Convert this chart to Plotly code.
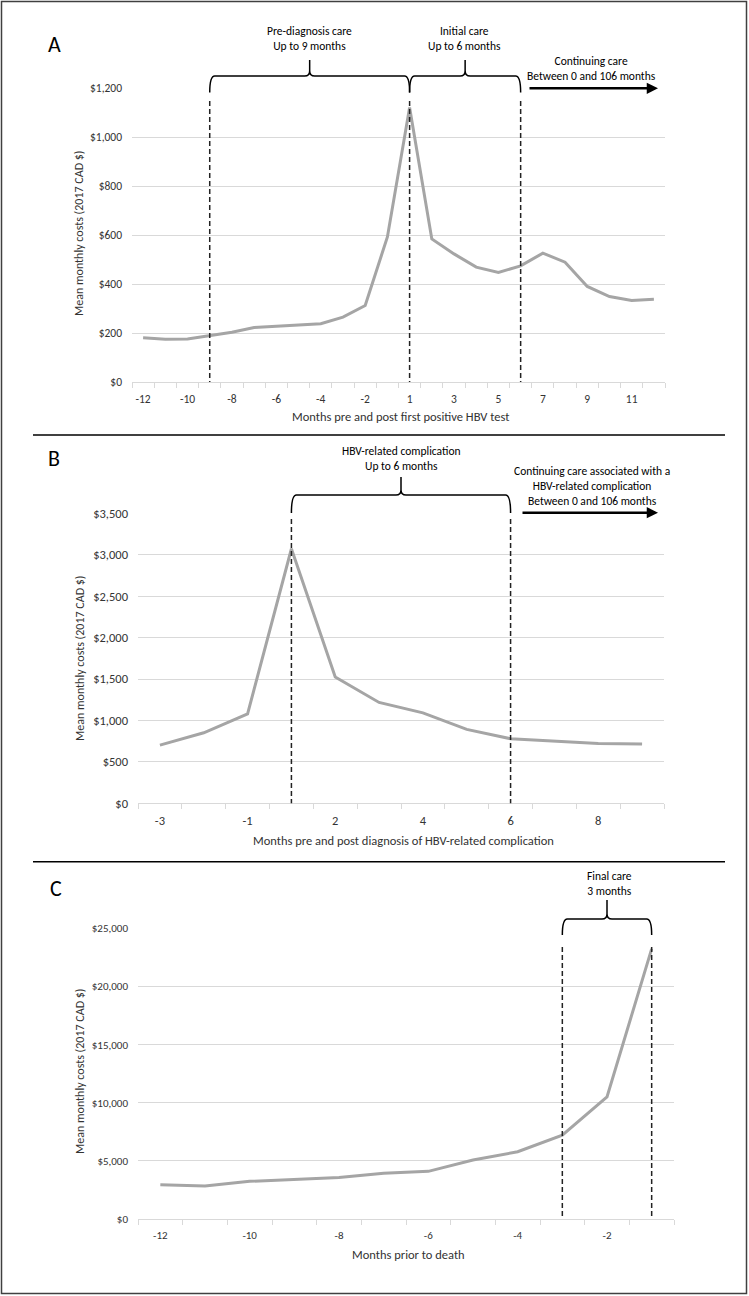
import plotly.graph_objects as go

W, H = 749, 1296
FONT = "Carlito, Calibri, Lato, sans-serif"

# ---------------- data ----------------
# Panel A: months pre/post first positive HBV test
months_a = [-12, -11, -10, -9, -8, -7, -6, -5, -4, -3, -2, -1,
            1, 2, 3, 4, 5, 6, 7, 8, 9, 10, 11, 12]
costs_a = [181, 175, 176, 189, 203, 222, 228, 232, 238, 265, 312, 592,
           1120, 584, 523, 469, 447, 474, 526, 489, 390, 349, 333, 338]
marks_a = [-9, 1, 6]

# Panel B: months pre/post diagnosis of HBV-related complication
months_b = [-3, -2, -1, 1, 2, 3, 4, 5, 6, 7, 8, 9]
costs_b = [702, 851, 1080, 3072, 1525, 1217, 1092, 892, 779, 751, 723, 715]
marks_b = [1, 6]

# Panel C: months prior to death
months_c = [-12, -11, -10, -9, -8, -7, -6, -5, -4, -3, -2, -1]
costs_c = [2950, 2850, 3240, 3440, 3580, 3930, 4100, 5070, 5790, 7220, 10510, 23250]
marks_c = [-3, -1]

y_title = "Mean monthly costs (2017 CAD $)"
x_title_a = "Months pre and post first positive HBV test"
x_title_b = "Months pre and post diagnosis of HBV-related complication"
x_title_c = "Months prior to death"

# ---------------- layout geometry (pixels) ----------------
def px(x):
    return x / W

def py(y):
    return 1 - y / H

panels = [
    dict(months=months_a, costs=costs_a, marks=marks_a, xd=(132, 665), yd=(88, 382),
         ymax=1200, dtick=200, xtitle=x_title_a, xt_y=416, yt=(79, 234), tfs=11.5),
    dict(months=months_b, costs=costs_b, marks=marks_b, xd=(138, 664), yd=(513.3, 803.3),
         ymax=3500, dtick=500, xtitle=x_title_b, xt_y=840, yt=(80, 659), tfs=12.5),
    dict(months=months_c, costs=costs_c, marks=marks_c, xd=(138, 674), yd=(928.5, 1219),
         ymax=25000, dtick=5000, xtitle=x_title_c, xt_y=1254, yt=(80, 1072), tfs=11),
]

fig = go.Figure()
shapes = []
annotations = []

for k, p in enumerate(panels, start=1):
    sfx = "" if k == 1 else str(k)
    n = len(p["months"])
    idx = list(range(n))
    fig.add_trace(go.Scatter(
        x=idx, y=p["costs"], mode="lines",
        line=dict(color="#A5A5A5", width=3),
        xaxis="x" + sfx, yaxis="y" + sfx, hoverinfo="skip", showlegend=False))
    tv = idx[::2]
    tt = [str(p["months"][i]) for i in tv]
    fig.layout["xaxis" + sfx] = dict(
        domain=[px(p["xd"][0]), px(p["xd"][1])],
        anchor="y" + sfx, range=[-0.5, n - 0.5], fixedrange=True, automargin=False,
        tickmode="array", tickvals=tv, ticktext=tt, ticks="",
        showline=True, linecolor="#D9D9D9", linewidth=1,
        showgrid=False, zeroline=False,
        tickfont=dict(family=FONT, size=p["tfs"], color="#333333"),
        ticklabelstandoff=6,
        minor=dict(tickmode="array", tickvals=[i - 0.5 for i in range(n + 1)],
                   ticks="outside", ticklen=5, tickcolor="#D9D9D9", tickwidth=1,
                   showgrid=False),
    )
    fig.layout["yaxis" + sfx] = dict(
        domain=[py(p["yd"][1]), py(p["yd"][0])],
        anchor="x" + sfx, range=[0, p["ymax"]], dtick=p["dtick"], fixedrange=True,
        automargin=False,
        tickprefix="$", tickformat=",", showline=False, ticks="",
        gridcolor="#D9D9D9", gridwidth=1, zeroline=False,
        tickfont=dict(family=FONT, size=p["tfs"], color="#333333"),
        ticklabelstandoff=9,
    )
    # axis titles
    annotations.append(dict(text=p["xtitle"], xref="paper", yref="paper",
                            x=px((p["xd"][0] + p["xd"][1]) / 2 + 2), y=py(p["xt_y"]),
                            xanchor="center", yanchor="middle", showarrow=False,
                            font=dict(family=FONT, size=12.5, color="#333333")))
    annotations.append(dict(text=y_title, xref="paper", yref="paper",
                            x=px(p["yt"][0]), y=py(p["yt"][1]), textangle=-90,
                            xanchor="center", yanchor="middle", showarrow=False,
                            font=dict(family=FONT, size=12, color="#333333")))


def dashed(sfx, months, m, ytop, ybot):
    shapes.append(dict(type="line", xref="x" + sfx, yref="paper",
                       x0=months.index(m), x1=months.index(m),
                       y0=py(ytop), y1=py(ybot),
                       line=dict(color="#222222", width=1.5, dash="5px,3px")))


def brace(sfx, months, m0, m1, unit_px, y_end, y_bar, y_tip, r=5):
    x0 = months.index(m0)
    x1 = months.index(m1)
    xm = (x0 + x1) / 2
    rx = r / unit_px
    ry = r / H
    ye, yb, yt = py(y_end), py(y_bar), py(y_tip)
    d = (f"M {x0},{ye} Q {x0},{yb} {x0 + rx},{yb} L {xm - rx},{yb} "
         f"Q {xm},{yb} {xm},{yb + ry} L {xm},{yt} "
         f"M {xm},{yb + ry} Q {xm},{yb} {xm + rx},{yb} L {x1 - rx},{yb} "
         f"Q {x1},{yb} {x1},{ye}")
    shapes.append(dict(type="path", xref="x" + sfx, yref="paper", path=d,
                       line=dict(color="#000000", width=1.5)))


def label(text, x, y, size=11.5):
    annotations.append(dict(text=text, xref="paper", yref="paper", x=px(x), y=py(y),
                            xanchor="center", yanchor="middle", showarrow=False,
                            font=dict(family=FONT, size=size, color="#000000")))


def arrow(x0, x1, y):
    annotations.append(dict(text="", xref="paper", yref="paper", x=px(x1), y=py(y),
                            ax=x0 - x1, ay=0, axref="pixel", ayref="pixel",
                            showarrow=True, arrowhead=2, arrowsize=0.9,
                            arrowwidth=2.5, arrowcolor="#000000", standoff=0))


def unit(p):
    return (p["xd"][1] - p["xd"][0]) / len(p["months"])

# Panel A annotations
pa, pb, pc = panels
for m in marks_a:
    dashed("", months_a, m, 101, 382)
brace("", months_a, -9, 1, unit(pa), 92.5, 76, 60)
brace("", months_a, 1, 6, unit(pa), 92.5, 76, 60)
label("Pre-diagnosis care<br>Up to 9 months", 309, 38.7)
label("Initial care<br>Up to 6 months", 464, 38.7)
label("Continuing care<br>Between 0 and 106 months", 591, 68)
arrow(528, 658, 88.3)
annotations.append(dict(text="A", xref="paper", yref="paper", x=px(54), y=py(45),
                        xanchor="center", yanchor="middle", showarrow=False,
                        font=dict(family=FONT, size=22, color="#000000")))

# Panel B annotations
for m in marks_b:
    dashed("2", months_b, m, 519, 803.3)
brace("2", months_b, 1, 6, unit(pb), 513, 495, 477)
label("HBV-related complication<br>Up to 6 months", 401, 458.5)
label("Continuing care associated with a<br>HBV-related complication<br>Between 0 and 106 months", 592, 486)
arrow(521, 658, 512.7)
annotations.append(dict(text="B", xref="paper", yref="paper", x=px(54), y=py(458),
                        xanchor="center", yanchor="middle", showarrow=False,
                        font=dict(family=FONT, size=22, color="#000000")))

# Panel C annotations
for m in marks_c:
    dashed("3", months_c, m, 947, 1219)
brace("3", months_c, -3, -1, unit(pc), 935, 919, 900)
label("Final care<br>3 months", 609, 883.3)
annotations.append(dict(text="C", xref="paper", yref="paper", x=px(56), y=py(888),
                        xanchor="center", yanchor="middle", showarrow=False,
                        font=dict(family=FONT, size=22, color="#000000")))

# separators and outer frame
shapes.append(dict(type="line", xref="paper", yref="paper", x0=px(33), x1=px(725),
                   y0=py(435), y1=py(435), line=dict(color="#000000", width=1.5)))
shapes.append(dict(type="line", xref="paper", yref="paper", x0=px(33), x1=px(725),
                   y0=py(861.7), y1=py(861.7), line=dict(color="#000000", width=1.5)))
shapes.append(dict(type="rect", xref="paper", yref="paper", x0=px(1.5), x1=px(746.5),
                   y0=py(1293.5), y1=py(1.5), line=dict(color="#404040", width=1.5)))

fig.update_layout(
    width=W, height=H,
    margin=dict(l=0, r=0, t=0, b=0, pad=0, autoexpand=False),
    paper_bgcolor="white", plot_bgcolor="white",
    showlegend=False, shapes=shapes, annotations=annotations,
    font=dict(family=FONT),
)

fig.write_html(
    "out.html",
    config={"displayModeBar": False, "staticPlot": True},
    post_script=(
        "document.documentElement.style.margin='0';"
        "document.body.style.margin='0';"
        "document.body.style.overflow='hidden';"
        "var d=document.getElementsByClassName('plotly-graph-div')[0];"
        "d.style.position='fixed';d.style.top='0px';d.style.left='0px';"
    ),
)
